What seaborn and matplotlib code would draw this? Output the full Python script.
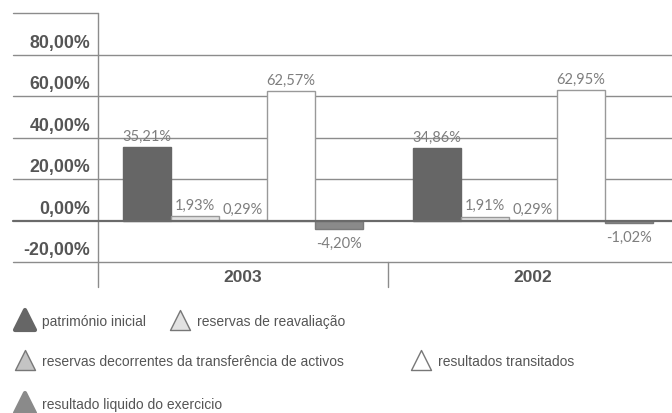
import matplotlib
matplotlib.use("Agg")
import matplotlib.pyplot as plt
from matplotlib.lines import Line2D
from matplotlib.markers import MarkerStyle
import matplotlib.transforms as mtransforms
import seaborn as sns
import pandas as pd

# --- data -------------------------------------------------------------
years = ["2003", "2002"]
series = [
    "património inicial",
    "reservas de reavaliação",
    "reservas decorrentes da transferência de activos",
    "resultados transitados",
    "resultado liquido do exercicio",
]
values_2003 = [35.21, 1.93, 0.29, 62.57, -4.20]
values_2002 = [34.86, 1.91, 0.29, 62.95, -1.02]
y_ticks = [80, 60, 40, 20, 0, -20]

fills = ["#666666", "#e2e2e2", "#c4c4c4", "#ffffff", "#8a8a8a"]
edges = ["#666666", "#999999", "#999999", "#999999", "#7a7a7a"]

rows = []
for yr, vals in zip(years, [values_2003, values_2002]):
    for s, v in zip(series, vals):
        rows.append({"ano": yr, "rubrica": s, "valor": v})
df = pd.DataFrame(rows)

# --- figure -----------------------------------------------------------
sns.set_theme(style="white")
plt.rcParams["font.family"] = ["Liberation Sans", "DejaVu Sans"]

W, H = 672, 414
fig = plt.figure(figsize=(W / 100, H / 100), dpi=100)
left_px, right_px, top_px, bot_px = 98, 678, 14, 263
ax = fig.add_axes([left_px / W, 1 - bot_px / H,
                   (right_px - left_px) / W, (bot_px - top_px) / H])

sns.barplot(data=df, x="ano", y="valor", hue="rubrica", order=years,
            hue_order=series, palette=fills, width=0.83, ax=ax,
            legend=False, errorbar=None, zorder=3, saturation=1)

ax.set_xlim(-0.5, 1.5)
ax.set_ylim(-20, 100)
for sp in ax.spines.values():
    sp.set_visible(False)
ax.set_xticks([])
ax.set_yticks([])
ax.set_xlabel("")
ax.set_ylabel("")

ax_w = right_px - left_px
ax_h = bot_px - top_px
label_col = (13 - left_px) / ax_w

# horizontal rules spanning the label column and the plot
grid_col = "#8c8c8c"
for v in y_ticks:
    ax.axhline(v, xmin=label_col, xmax=1, color=grid_col if v != 0 else "#6a6a6a",
               lw=1.0 if v != 0 else 1.6, clip_on=False, zorder=2 if v != 0 else 4)
ax.axhline(100, xmin=label_col, xmax=0, color=grid_col, lw=1.0, clip_on=False)

# vertical rules: value axis and category separator
below = -(288 - bot_px) / ax_h
ax.plot([0, 0], [below, 1], transform=ax.transAxes, color=grid_col, lw=1.0, clip_on=False)
ax.plot([0.5, 0.5], [below, 0], transform=ax.transAxes, color=grid_col, lw=1.0, clip_on=False)

# value-axis labels, set just above each rule
blend = mtransforms.blended_transform_factory(ax.transAxes, ax.transData)
for v in y_ticks:
    ax.text((90 - left_px) / ax_w, v + 5.8, f"{v:.2f}".replace(".", ",") + "%",
            transform=blend, ha="right", va="center", fontsize=12.8,
            fontweight="bold", color="#555555")

# category labels
cat_tr = mtransforms.blended_transform_factory(ax.transData, ax.transAxes)
for i, yr in enumerate(years):
    ax.text(i, -(277 - bot_px) / ax_h, yr, transform=cat_tr,
            ha="center", va="center", fontsize=12.5, fontweight="bold", color="#555555")

# bar styling and value labels
all_vals = [values_2003, values_2002]
label_font = dict(fontsize=10.5, color="#7e7e7e", family=["Lato", "Liberation Sans"])
for k, cont in enumerate(ax.containers):
    for j, bar in enumerate(cont):
        bar.set_edgecolor(edges[k])
        bar.set_linewidth(1.0)
        v = all_vals[j][k]
        x = bar.get_x() + bar.get_width() / 2
        txt = f"{v:.2f}".replace(".", ",") + "%"
        if v >= 0:
            ax.annotate(txt, (x, v), xytext=(0, 3), textcoords="offset points",
                        ha="center", va="bottom", **label_font)
        else:
            ax.annotate(txt, (x, v), xytext=(0, -5), textcoords="offset points",
                        ha="center", va="top", **label_font)

# legend: rounded triangles with labels
legend_pos = [(25, 321), (180, 321), (25, 361), (421, 361), (25, 404)]
for (px, py), name, fc in zip(legend_pos, series, fills):
    ec = fc if fc in ("#666666", "#8a8a8a") else "#777777"
    tri = MarkerStyle("^", joinstyle="round")
    fig.add_artist(Line2D([px / W], [1 - py / H], marker=tri, markersize=14.5,
                          markerfacecolor=fc, markeredgecolor=ec,
                          markeredgewidth=3.0 if ec == fc else 1.0,
                          transform=fig.transFigure, linestyle="none"))
    fig.text((px + 17) / W, 1 - (py + 1) / H, name, ha="left", va="center",
             fontsize=10, color="#555555")

fig.savefig("out.png", dpi=100)
